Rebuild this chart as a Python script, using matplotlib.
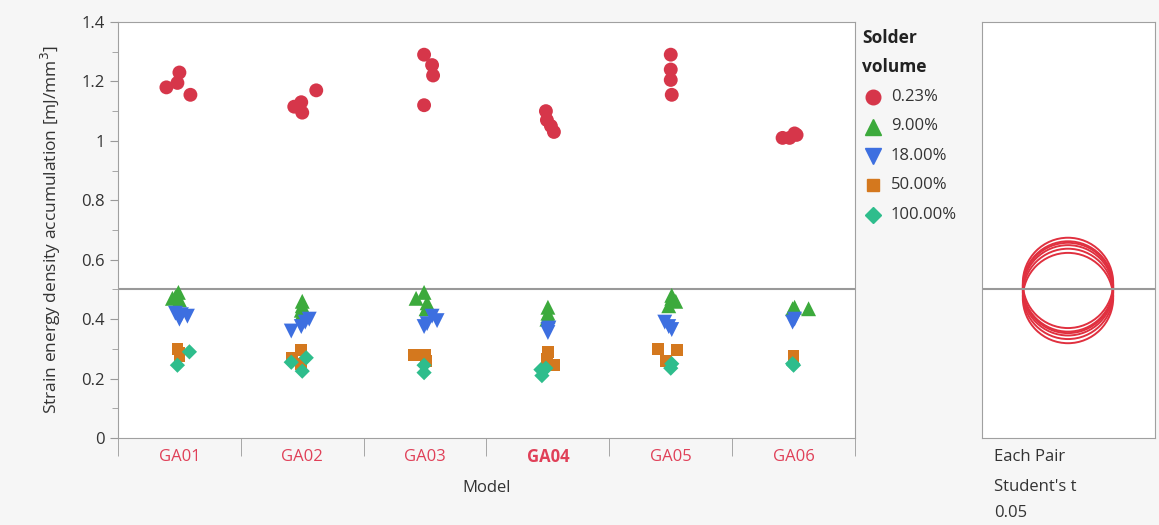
import matplotlib.pyplot as plt
from matplotlib.patches import Circle
import numpy as np

plt.rcParams['font.family'] = ['Open Sans', 'DejaVu Sans']

models = ['GA01', 'GA02', 'GA03', 'GA04', 'GA05', 'GA06']
highlighted = 'GA04'
volumes = ['0.23%', '9.00%', '18.00%', '50.00%', '100.00%']

# strain energy density per model, one list per solder volume
sed_v023 = [[1.18, 1.23, 1.195, 1.155], [1.115, 1.13, 1.095, 1.17],
            [1.29, 1.255, 1.22, 1.12], [1.10, 1.07, 1.05, 1.03],
            [1.29, 1.24, 1.205, 1.155], [1.01, 1.025, 1.01, 1.02]]
sed_v9 = [[0.47, 0.49, 0.465, 0.475], [0.46, 0.445, 0.43, 0.42],
          [0.47, 0.49, 0.455, 0.435], [0.44, 0.42, 0.40, 0.41],
          [0.48, 0.46, 0.445, 0.47], [0.435, 0.435, 0.44]]
sed_v18 = [[0.40, 0.41, 0.415, 0.42], [0.36, 0.375, 0.40, 0.39],
           [0.375, 0.395, 0.41, 0.385], [0.355, 0.365, 0.37],
           [0.39, 0.365, 0.375], [0.39, 0.40]]
sed_v50 = [[0.30, 0.285, 0.275], [0.295, 0.27, 0.25], [0.28, 0.28, 0.26],
           [0.29, 0.245, 0.265], [0.30, 0.295, 0.26], [0.275, 0.265]]
sed_v100 = [[0.245, 0.29], [0.255, 0.27, 0.225], [0.245, 0.22],
            [0.21, 0.23, 0.235], [0.235, 0.25], [0.25, 0.245]]

# horizontal jitter in pixels, same layout as the value lists
jit_v023 = [[-13, 0, -2, 11], [-8, -1, 0, 14], [-1, 7, 8, -1],
            [-2, -1, 3, 6], [0, 0, 0, 1], [-11, 1, -4, 3]]
jit_v9 = [[-7, -1, 0, -4], [0, 0, -1, 0], [-9, -1, 2, 1],
          [0, 0, -1, 0], [1, 5, -2, 1], [-1, 15, 1]]
jit_v18 = [[0, 8, 2, -4], [-11, -1, 7, 3], [-1, 12, 7, 2],
           [0, 0, 1], [-6, 1, -2], [-1, 1]]
jit_v50 = [[-2, 0, 0], [-1, -10, -1], [-11, 0, 1],
           [0, 6, -1], [-13, 6, -5], [0, 0]]
jit_v100 = [[-2, 10], [-11, 4, 0], [-1, -1], [-6, -7, -2], [0, 1], [-1, 0]]

grand_mean = 0.5
circle_centers = [0.522, 0.51, 0.497, 0.485, 0.471, 0.505]
circle_radius = 0.152

series = [(sed_v023, jit_v023, 'o', '#d6364a', 100),
          (sed_v9, jit_v9, '^', '#3caa3c', 115),
          (sed_v18, jit_v18, 'v', '#3d6fe0', 115),
          (sed_v50, jit_v50, 's', '#d4781e', 72),
          (sed_v100, jit_v100, 'D', '#2ebd8c', 60)]

W, H = 1159, 525
fig = plt.figure(figsize=(W / 100, H / 100), dpi=100, facecolor='#f6f6f6')
ax = fig.add_axes([118 / W, 87 / H, 737 / W, 416 / H], facecolor='white')
px_per_cat = 737 / len(models)

for vals, jits, marker, color, size in series:
    for i, (ys, js) in enumerate(zip(vals, jits)):
        xs = i + 1 + np.array(js) / px_per_cat
        ax.scatter(xs, ys, marker=marker, s=size, color=color,
                   edgecolors='none', zorder=3)

ax.axhline(grand_mean, color='#999999', lw=1.5, zorder=2)
ax.set_xlim(0.5, len(models) + 0.5)
ax.set_ylim(0, 1.4)

ax.set_yticks(np.arange(0, 1.41, 0.2))
ax.set_yticklabels(['0', '0.2', '0.4', '0.6', '0.8', '1', '1.2', '1.4'])
ax.set_yticks(np.arange(0.1, 1.4, 0.2), minor=True)
ax.tick_params(axis='y', which='both', direction='out', color='#999999',
               labelsize=12, labelcolor='#333333')
ax.tick_params(axis='y', which='major', length=6)
ax.tick_params(axis='y', which='minor', length=4)

# category boxes below the axis, names written as plain text
ax.set_xticks([])
ax.set_xticks(np.arange(0.5, len(models) + 1, 1), minor=True)
ax.tick_params(axis='x', which='minor', length=13, direction='out',
               color='#999999')
for i, name in enumerate(models):
    ax.text(i + 1, -19 / 416, name, transform=ax.get_xaxis_transform(),
            ha='center', va='center', fontsize=12, color='#e04058',
            fontweight='bold' if name == highlighted else 'normal')

for sp in ax.spines.values():
    sp.set_color('#a0a0a0')

ax.set_xlabel('Model', fontsize=12, color='#333333', labelpad=14)
ax.set_ylabel('Strain energy density accumulation [mJ/mm$^3$]', fontsize=12.5,
              color='#333333', labelpad=13)

# legend block
fig.text(862 / W, 1 - 38 / H, 'Solder', fontsize=12.5, fontweight='bold',
         color='#222222', va='center')
fig.text(862 / W, 1 - 67 / H, 'volume', fontsize=12.5, fontweight='bold',
         color='#222222', va='center')
for k, (label, (_, _, marker, color, size)) in enumerate(zip(volumes, series)):
    yy = 1 - (97 + 29.5 * k) / H
    fig.lines.append(plt.Line2D([873 / W], [yy], marker=marker, color=color,
                                markersize=np.sqrt(size) * 1.05, ls='none',
                                transform=fig.transFigure))
    fig.text(891 / W, yy, label, fontsize=12, color='#333333', va='center')

# comparison circles panel
ax2 = fig.add_axes([982 / W, 87 / H, 173 / W, 416 / H], facecolor='white')
ax2.set_ylim(0, 1.4)
ax2.set_xlim(0, 1.4 * 173 / 416)
cx = 1.4 * (1068 - 982) / 416
for cy in circle_centers:
    ax2.add_patch(Circle((cx, cy), circle_radius, fill=False,
                         edgecolor='#e0303f', lw=1.4))
ax2.axhline(grand_mean, color='#999999', lw=1.5)
ax2.set_xticks([])
ax2.set_yticks([])
for sp in ax2.spines.values():
    sp.set_color('#a0a0a0')

for t, yy in [('Each Pair', 457), ("Student's t", 487), ('0.05', 513)]:
    fig.text(994 / W, 1 - yy / H, t, fontsize=12, color='#333333',
             va='center')

fig.savefig('out.png', dpi=100, facecolor=fig.get_facecolor())
